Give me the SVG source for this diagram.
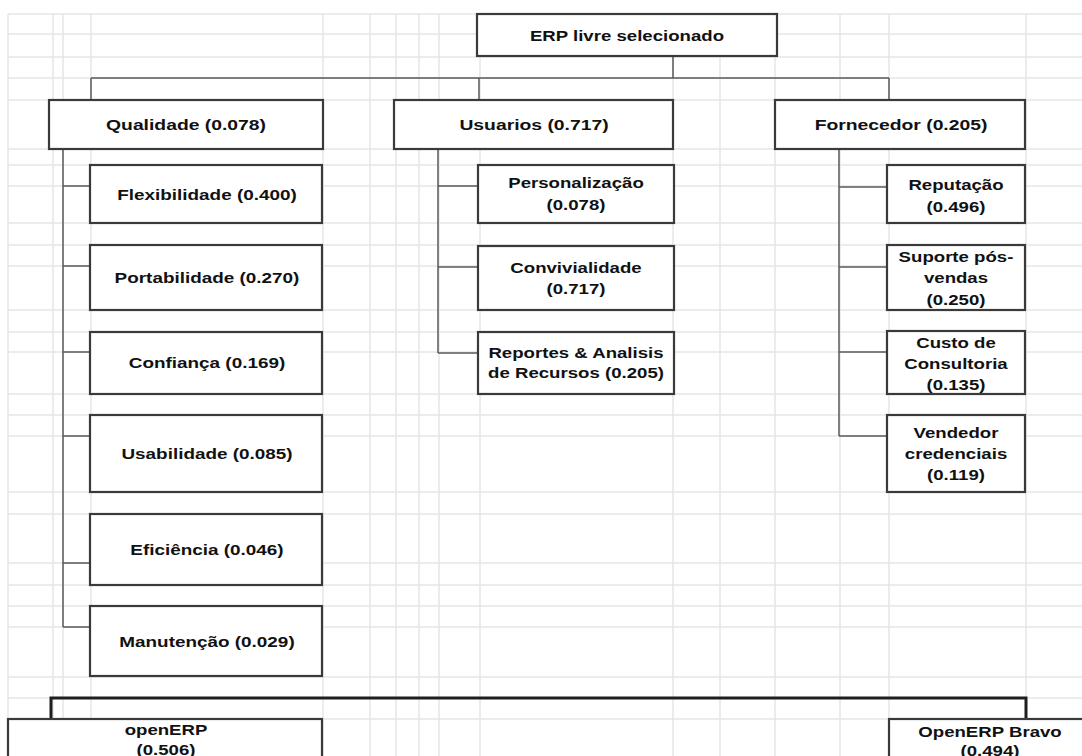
<svg xmlns="http://www.w3.org/2000/svg" width="1082" height="756" viewBox="0 0 1082 756">
<style>
.grid line{stroke:#e4e7e7;stroke-width:1.5}
.box{fill:#ffffff;stroke:#3a3a3a;stroke-width:2.2}
.conn{fill:none;stroke:#5a5a5a;stroke-width:1.5}
.heavy{fill:none;stroke:#1e1e1e;stroke-width:3}
text{font-family:"Liberation Sans",Arial,sans-serif;font-weight:bold;font-size:14px;fill:#111;text-anchor:middle}
</style>
<rect width="1082" height="756" fill="#ffffff"/>
<g class="grid">
<line x1="8" y1="14" x2="1082" y2="14"/><line x1="8" y1="34" x2="1082" y2="34"/><line x1="8" y1="57" x2="1082" y2="57"/><line x1="8" y1="78" x2="1082" y2="78"/><line x1="8" y1="100" x2="1082" y2="100"/><line x1="8" y1="149" x2="1082" y2="149"/><line x1="8" y1="165" x2="1082" y2="165"/><line x1="8" y1="186" x2="1082" y2="186"/><line x1="8" y1="223" x2="1082" y2="223"/><line x1="8" y1="245" x2="1082" y2="245"/><line x1="8" y1="266" x2="1082" y2="266"/><line x1="8" y1="310" x2="1082" y2="310"/><line x1="8" y1="332" x2="1082" y2="332"/><line x1="8" y1="352" x2="1082" y2="352"/><line x1="8" y1="394" x2="1082" y2="394"/><line x1="8" y1="415" x2="1082" y2="415"/><line x1="8" y1="436" x2="1082" y2="436"/><line x1="8" y1="492" x2="1082" y2="492"/><line x1="8" y1="514" x2="1082" y2="514"/><line x1="8" y1="563" x2="1082" y2="563"/><line x1="8" y1="585" x2="1082" y2="585"/><line x1="8" y1="606" x2="1082" y2="606"/><line x1="8" y1="627" x2="1082" y2="627"/><line x1="8" y1="677" x2="1082" y2="677"/><line x1="8" y1="698" x2="1082" y2="698"/><line x1="8" y1="719" x2="1082" y2="719"/>
<line x1="8" y1="14" x2="8" y2="756"/><line x1="53" y1="14" x2="53" y2="756"/><line x1="63" y1="14" x2="63" y2="756"/><line x1="91" y1="14" x2="91" y2="756"/><line x1="323" y1="14" x2="323" y2="756"/><line x1="370" y1="14" x2="370" y2="756"/><line x1="396" y1="14" x2="396" y2="756"/><line x1="419" y1="14" x2="419" y2="756"/><line x1="439" y1="14" x2="439" y2="756"/><line x1="480" y1="14" x2="480" y2="756"/><line x1="673" y1="14" x2="673" y2="756"/><line x1="720" y1="14" x2="720" y2="756"/><line x1="775" y1="14" x2="775" y2="756"/><line x1="840" y1="14" x2="840" y2="756"/><line x1="889" y1="14" x2="889" y2="756"/><line x1="1026" y1="14" x2="1026" y2="756"/>
</g>
<g id="connectors">
<path class="conn" d="M673 56V78M91 78H889M91 78V100M479 78V100M889 78V100"/>
<path class="conn" d="M63 149V627M63 186H90M63 266H90M63 352H90M63 436H90M63 563H90M63 627H90"/>
<path class="conn" d="M438 149V353M438 186H478M438 267H478M438 353H478"/>
<path class="conn" d="M839 149V436M839 187H887M839 267H887M839 352H887M839 436H887"/>
<path class="heavy" d="M51 719V698H1026V719"/>
</g>
<g id="root"><rect class="box" x="477" y="14" width="300" height="42"/><text transform="translate(627,41) scale(1.33,1)">ERP livre selecionado</text></g>
<g id="qualidade"><rect class="box" x="49" y="100" width="274" height="49"/><text transform="translate(186,130) scale(1.38,1)">Qualidade (0.078)</text></g>
<g id="usuarios"><rect class="box" x="394" y="100" width="279" height="49"/><text transform="translate(534,130) scale(1.38,1)">Usuarios (0.717)</text></g>
<g id="fornecedor"><rect class="box" x="775" y="100" width="250" height="49"/><text transform="translate(901,130) scale(1.38,1)">Fornecedor (0.205)</text></g>
<g id="flexibilidade"><rect class="box" x="90" y="165" width="232" height="58"/><text transform="translate(207,200) scale(1.35,1)">Flexibilidade (0.400)</text></g>
<g id="portabilidade"><rect class="box" x="90" y="245" width="232" height="65"/><text transform="translate(207,283) scale(1.35,1)">Portabilidade (0.270)</text></g>
<g id="confianca"><rect class="box" x="90" y="332" width="232" height="62"/><text transform="translate(207,368) scale(1.35,1)">Confiança (0.169)</text></g>
<g id="usabilidade"><rect class="box" x="90" y="415" width="232" height="77"/><text transform="translate(207,459) scale(1.35,1)">Usabilidade (0.085)</text></g>
<g id="eficiencia"><rect class="box" x="90" y="514" width="232" height="71"/><text transform="translate(207,555) scale(1.35,1)">Eficiência (0.046)</text></g>
<g id="manutencao"><rect class="box" x="90" y="606" width="232" height="70"/><text transform="translate(207,647) scale(1.35,1)">Manutenção (0.029)</text></g>
<g id="personalizacao"><rect class="box" x="478" y="165" width="196" height="58"/><text transform="translate(576,188) scale(1.33,1)"><tspan x="0">Personalização</tspan><tspan x="0" dy="22">(0.078)</tspan></text></g>
<g id="convivialidade"><rect class="box" x="478" y="246" width="196" height="64"/><text transform="translate(576,273) scale(1.33,1)"><tspan x="0">Convivialidade</tspan><tspan x="0" dy="21">(0.717)</tspan></text></g>
<g id="reportes"><rect class="box" x="478" y="332" width="196" height="62"/><text transform="translate(576,358) scale(1.33,1)"><tspan x="0">Reportes &amp; Analisis</tspan><tspan x="0" dy="20">de Recursos (0.205)</tspan></text></g>
<g id="reputacao"><rect class="box" x="887" y="165" width="138" height="58"/><text transform="translate(956,190) scale(1.33,1)"><tspan x="0">Reputação</tspan><tspan x="0" dy="22">(0.496)</tspan></text></g>
<g id="suporte"><rect class="box" x="887" y="245" width="138" height="65"/><text transform="translate(956,262) scale(1.33,1)"><tspan x="0">Suporte pós-</tspan><tspan x="0" dy="21.5">vendas</tspan><tspan x="0" dy="21.5">(0.250)</tspan></text></g>
<g id="custo"><rect class="box" x="887" y="331" width="138" height="63"/><text transform="translate(956,348) scale(1.33,1)"><tspan x="0">Custo de</tspan><tspan x="0" dy="21">Consultoria</tspan><tspan x="0" dy="21">(0.135)</tspan></text></g>
<g id="vendedor"><rect class="box" x="887" y="415" width="138" height="77"/><text transform="translate(956,438) scale(1.33,1)"><tspan x="0">Vendedor</tspan><tspan x="0" dy="21">credenciais</tspan><tspan x="0" dy="21">(0.119)</tspan></text></g>
<g id="openerp"><rect class="box" x="8" y="719" width="314" height="60"/><text transform="translate(166,735) scale(1.33,1)"><tspan x="0">openERP</tspan><tspan x="0" dy="20">(0.506)</tspan></text></g>
<g id="openerp-bravo"><rect class="box" x="889" y="719" width="204" height="60"/><text transform="translate(990,737) scale(1.33,1)"><tspan x="0">OpenERP Bravo</tspan><tspan x="0" dy="19">(0.494)</tspan></text></g>
</svg>
